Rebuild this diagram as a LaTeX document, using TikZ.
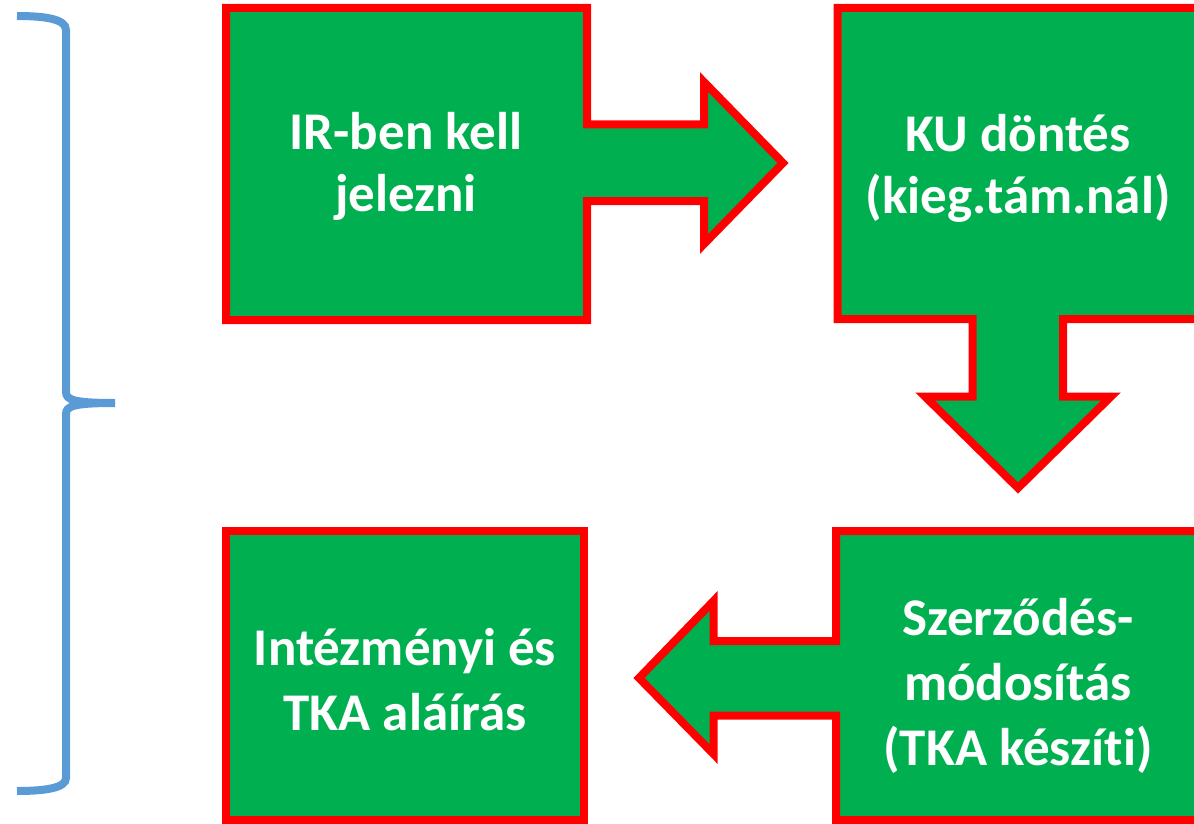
\documentclass[tikz,border=0pt]{standalone}
\usepackage{fontspec}
\setmainfont{Carlito}[Ligatures=NoCommon]
\usepackage{tikz}
\definecolor{stepgreen}{HTML}{00B050}
\definecolor{curlyblue}{HTML}{5B9BD5}

\begin{document}
\begin{tikzpicture}[x=1pt,y=-1pt,
  stepbox/.style={fill=stepgreen,draw=red,line width=8pt},
  steptext/.style={text=white,align=center,inner sep=0pt,
    font=\bfseries\fontsize{53}{62}\selectfont},
  curly/.style={draw=curlyblue,line width=8pt}]
\path[use as bounding box,clip] (0,0) rectangle (1194,824);

% left brace
\draw[curly] (17,16) .. controls (45,16) and (66,19) .. (66,30)
  -- (66,392) .. controls (66,400) and (74,403) .. (115,403);
\draw[curly] (115,403) .. controls (74,403) and (66,406) .. (66,414)
  -- (66,778) .. controls (66,788) and (45,791) .. (17,791);

% boxes with arrows
\draw[stepbox] (226,8) -- (587,8) -- (587,124.5) -- (704,124.5) -- (704,82)
  -- (783,163) -- (704,244) -- (704,201) -- (587,201) -- (587,320) -- (226,320) -- cycle;
\draw[stepbox] (837.5,8) -- (1198.5,8) -- (1198.5,319) -- (1063,319) -- (1063,396.5)
  -- (1111,396.5) -- (1018,488) -- (925,396.5) -- (972.5,396.5) -- (972.5,319)
  -- (837.5,319) -- cycle;
\draw[stepbox] (836,531) -- (1199,531) -- (1199,820) -- (836,820) -- (836,715.5)
  -- (713.5,715.5) -- (713.5,754) -- (639,678) -- (713.5,601) -- (713.5,641)
  -- (836,641) -- cycle;
\draw[stepbox] (225.5,530.5) rectangle (584,820);

% texts
\node[steptext] (ir) at (406,166) {IR-ben kell\\jelezni};
\node[steptext] (ku) at (1018,168) {KU döntés\\(kieg.tám.nál)};
\node[steptext,font=\bfseries\fontsize{53}{65}\selectfont] (szm) at (1018,686)
  {Szerződés-\\módosítás\\(TKA készíti)};
\node[steptext,font=\bfseries\fontsize{53}{65}\selectfont] (alair) at (405,680)
  {Intézményi és\\TKA aláírás};
\end{tikzpicture}
\end{document}
